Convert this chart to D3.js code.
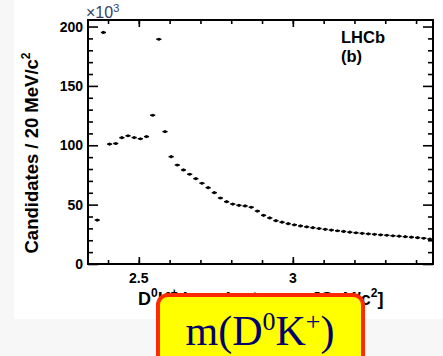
<!DOCTYPE html>
<html>
<head>
<meta charset="utf-8">
<script src="https://cdn.jsdelivr.net/npm/d3@7"></script>
<style>
  body { margin: 0; background: #f7f7f7; }
  svg { display: block; }
  text { font-family: "Liberation Sans", Arial, sans-serif; }
</style>
</head>
<body>
<div id="chart"></div>
<script>
// bin centres of m(D0K+) in GeV/c^2 (20 MeV bins)
var massBins = [2.365, 2.385, 2.405, 2.425, 2.445, 2.465, 2.485, 2.505, 2.525, 2.545,
  2.565, 2.585, 2.605, 2.625, 2.645, 2.665, 2.685, 2.705, 2.725, 2.745,
  2.765, 2.785, 2.805, 2.825, 2.845, 2.865, 2.885, 2.905, 2.925, 2.945,
  2.965, 2.985, 3.005, 3.025, 3.045, 3.065, 3.085, 3.105, 3.125, 3.145,
  3.165, 3.185, 3.205, 3.225, 3.245, 3.265, 3.285, 3.305, 3.325, 3.345,
  3.365, 3.385, 3.405, 3.425, 3.445];
// candidates per bin, x10^3
var candidates = [37, 195, 101, 101.5, 106.4, 108, 106.5, 105.5, 107.3, 125.3,
  189.3, 111.5, 90.4, 83.4, 79.2, 75.6, 71.9, 68, 64.3, 60.1,
  55.6, 52.5, 50.5, 49.4, 48.9, 47.8, 44.6, 41, 38.8, 36.5,
  35.2, 34.0, 33.0, 32.1, 31.3, 30.6, 29.9, 29.2, 28.6, 28.0,
  27.4, 26.8, 26.3, 25.8, 25.4, 25.0, 24.6, 24.2, 23.8, 23.4,
  23.0, 22.6, 22.2, 21.7, 21.0];
var binWidth = 0.02;
var xMajorTicks = [2.5, 3];
var xMinorTicks = [2.4, 2.5, 2.6, 2.7, 2.8, 2.9, 3.0, 3.1, 3.2, 3.3, 3.4];
var yMajorTicks = [0, 50, 100, 150, 200];
var yMinorTicks = [10, 20, 30, 40, 60, 70, 80, 90, 110, 120, 130, 140, 160, 170, 180, 190];

var W = 443, H = 356;
var margin = {top: 20, right: 10, bottom: 92, left: 88};
var width = W - margin.left - margin.right,
    height = H - margin.top - margin.bottom;

var svg = d3.select("#chart").append("svg")
    .attr("width", W).attr("height", H);

// white page area
svg.append("rect").attr("x", 14).attr("y", 0)
    .attr("width", W - 14).attr("height", 319).attr("fill", "#fff");

var g = svg.append("g")
    .attr("transform", "translate(" + margin.left + "," + margin.top + ")");

var x = d3.scaleLinear().domain([2.335, 3.455]).range([0, width]);
var y = d3.scaleLinear().domain([0, 205.5]).range([height, 0]);

//axes: ROOT style, ticks inside, mirrored
function tickAxis(axis, ticks, size) {
  return axis.tickValues(ticks).tickSize(size).tickFormat("");
}
g.append("g").attr("transform", "translate(0," + height + ")")
  .call(tickAxis(d3.axisTop(x), xMinorTicks, 4));
g.append("g").attr("transform", "translate(0," + height + ")")
  .call(tickAxis(d3.axisTop(x), xMajorTicks, 7));
g.append("g").call(tickAxis(d3.axisBottom(x), xMinorTicks, 4));
g.append("g").call(tickAxis(d3.axisBottom(x), xMajorTicks, 7));
g.append("g").call(tickAxis(d3.axisRight(y), yMinorTicks, 5));
g.append("g").call(tickAxis(d3.axisRight(y), yMajorTicks, 10));
g.append("g").attr("transform", "translate(" + width + ",0)")
  .call(tickAxis(d3.axisLeft(y), yMinorTicks, 5));
g.append("g").attr("transform", "translate(" + width + ",0)")
  .call(tickAxis(d3.axisLeft(y), yMajorTicks, 10));
g.selectAll(".domain").remove();
g.selectAll(".tick line").attr("stroke", "#000").attr("stroke-width", 1.6);

g.append("rect").attr("width", width).attr("height", height)
  .attr("fill", "none").attr("stroke", "#000").attr("stroke-width", 2);

// tick labels
g.selectAll(".ylab").data(yMajorTicks).enter().append("text")
  .attr("x", -5).attr("y", function(d) { return y(d); })
  .attr("dy", "0.36em").attr("text-anchor", "end")
  .style("font-size", "14px").style("font-weight", "bold")
  .text(function(d) { return d; });
g.selectAll(".xlab").data(xMajorTicks).enter().append("text")
  .attr("x", function(d) { return x(d); }).attr("y", height + 19)
  .attr("text-anchor", "middle")
  .style("font-size", "14px").style("font-weight", "bold")
  .text(function(d) { return d; });

var exp = svg.append("text").attr("x", 86).attr("y", 18)
  .style("font-size", "16px").attr("fill", "#34406e");
exp.append("tspan").text("\u00d710");
exp.append("tspan").attr("dy", -6).style("font-size", "11px").text("3");

// axis titles
var yt = svg.append("text")
  .attr("transform", "translate(38,153) rotate(-90)")
  .attr("text-anchor", "middle")
  .style("font-size", "18.5px").style("font-weight", "bold");
yt.append("tspan").text("Candidates / 20 MeV/c");
yt.append("tspan").attr("dy", -8).style("font-size", "12px").text("2");

var xt = svg.append("text").attr("x", 138).attr("y", 305)
  .style("font-size", "18px").style("font-weight", "bold");
xt.append("tspan").text("D");
xt.append("tspan").attr("dy", -8).style("font-size", "12px").text("0");
xt.append("tspan").attr("dy", 8).text("K");
xt.append("tspan").attr("dy", -8).style("font-size", "12px").text("+");
xt.append("tspan").attr("dy", 8).text(" invariant mass [GeV/c");
xt.append("tspan").attr("dy", -8).style("font-size", "12px").text("2");
xt.append("tspan").attr("dy", 8).text("]");

// LHCb label
g.append("text").attr("x", 253).attr("y", 23)
  .style("font-size", "16.5px").style("font-weight", "bold").text("LHCb");
g.append("text").attr("x", 253).attr("y", 42)
  .style("font-size", "16.5px").style("font-weight", "bold").text("(b)");

// data points with bin-width error bars
var data = massBins.map(function(m, i) { return {m: m, n: candidates[i]}; });
var pts = g.selectAll(".pt").data(data).enter().append("g");
pts.append("line")
  .attr("x1", function(d) { return x(d.m - binWidth / 2) + 0.5; })
  .attr("x2", function(d) { return x(d.m + binWidth / 2) - 0.5; })
  .attr("y1", function(d) { return y(d.n); })
  .attr("y2", function(d) { return y(d.n); })
  .attr("stroke", "#000").attr("stroke-width", 1.5);
pts.append("circle")
  .attr("cx", function(d) { return x(d.m); })
  .attr("cy", function(d) { return y(d.n); })
  .attr("r", 1.6).attr("fill", "#000");

// overlay label box
svg.append("rect").attr("x", 158).attr("y", 295)
  .attr("width", 205).attr("height", 75).attr("rx", 10)
  .attr("fill", "#ffff00").attr("stroke", "#ff2a00").attr("stroke-width", 4);
var ov = svg.append("text").attr("x", 260).attr("y", 345)
  .attr("text-anchor", "middle").attr("fill", "#00006e")
  .style("font-family", "'Liberation Serif', 'Times New Roman', serif")
  .style("font-size", "42px");
ov.append("tspan").text("m(D");
ov.append("tspan").attr("dy", -15).style("font-size", "26px").text("0");
ov.append("tspan").attr("dy", 15).text("K");
ov.append("tspan").attr("dy", -15).style("font-size", "26px").text("+");
ov.append("tspan").attr("dy", 15).text(")");
</script>
</body>
</html>
